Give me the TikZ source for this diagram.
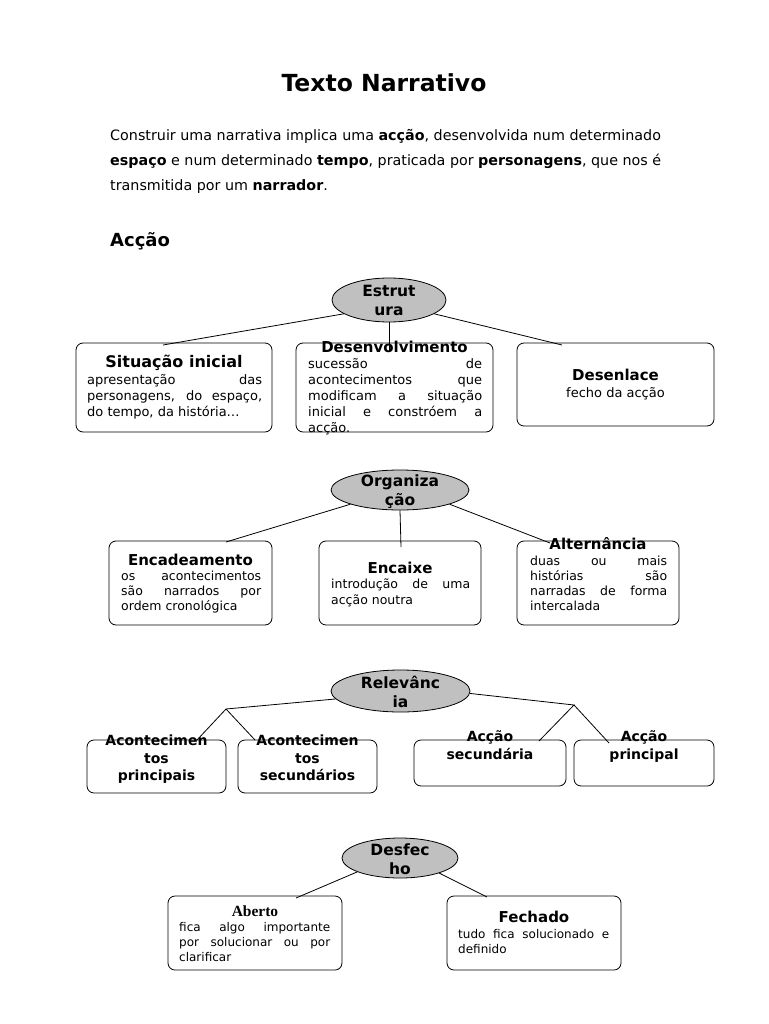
\documentclass[tikz,border=0pt]{standalone}
\usepackage{fontspec}
\setmainfont{DejaVu Sans}
\newfontfamily\serifb{Liberation Serif}
\usetikzlibrary{shapes.geometric}
\definecolor{ellgray}{RGB}{192,192,192}
\hyphenpenalty=10000
\exhyphenpenalty=10000
\tikzset{
  box/.style={draw, rounded corners=7pt, line width=0.8pt, inner sep=0pt},
  ell/.style={ellipse, draw, fill=ellgray, line width=0.8pt, inner sep=0pt},
  link/.style={line width=0.8pt},
  elltext/.style={font=\fontsize{15.5}{19}\selectfont\bfseries, align=center, inner sep=0pt},
  btitle/.style={font=\fontsize{15}{17}\selectfont\bfseries, inner sep=0pt, anchor=base},
  rtitle/.style={font=\fontsize{14}{17.5}\selectfont\bfseries, inner sep=0pt, align=center, anchor=north},
  btext/.style={font=\fontsize{13}{16}\selectfont, align=justify, inner sep=0pt, anchor=north west},
  btextb/.style={btext, font=\fontsize{12.5}{15}\selectfont},
  btextc/.style={btext, font=\fontsize{12}{15}\selectfont},
  para/.style={font=\fontsize{14.3}{17}\selectfont, inner sep=0pt, anchor=base west},
}
\begin{document}
\begin{tikzpicture}[x=1pt,y=-1pt]
\useasboundingbox[fill=white] (0,0) rectangle (768,1024);

% title and paragraph
\node[font=\fontsize{23.5}{28}\selectfont\bfseries, inner sep=0pt, anchor=base] (title) at (384,91.5) {Texto Narrativo};
\node[para] (p1) at (110,141) {Construir uma narrativa implica uma \textbf{acção}, desenvolvida num determinado};
\node[para] (p2) at (110,166) {\textbf{espaço} e num determinado \textbf{tempo}, praticada por \textbf{personagens}, que nos é};
\node[para] (p3) at (110,191) {transmitida por um \textbf{narrador}.};
\node[font=\fontsize{18}{22}\selectfont\bfseries, inner sep=0pt, anchor=base west] (h1) at (110,246.5) {Acção};

% ---------- Estrutura ----------
\node[ell, minimum width=114, minimum height=44] (e1) at (389,300) {};
\node[elltext] (e1t) at (389,300) {Estrut\\ura};
\node[box, minimum width=196, minimum height=89] (b11) at (174,387.5) {};
\node[box, minimum width=197, minimum height=89] (b12) at (394.5,387.5) {};
\node[box, minimum width=197, minimum height=83] (b13) at (615.5,384.5) {};
\node[btitle, font=\fontsize{16}{18}\selectfont\bfseries] (t11) at (174,367.5) {Situação inicial};
\node[btext, text width=175] (x11) at (87,374) {apresentação das\linebreak personagens, do espaço,\linebreak do tempo, da história\ldots};
\node[btitle] (t12) at (394.5,352.5) {Desenvolvimento};
\node[btext, text width=174] (x12) at (308,358.5) {sucessão de\linebreak acontecimentos que\linebreak modificam a situação\linebreak inicial e constróem a\linebreak acção.};
\node[btitle] (t13) at (615.5,380.5) {Desenlace};
\node[font=\fontsize{13}{16}\selectfont, inner sep=0pt, anchor=base] (x13) at (615.5,397.5) {fecho da acção};
\coordinate (c11) at (163,345);
\coordinate (c12) at (389,352);
\coordinate (c13) at (562,345);
\draw[link] (e1.197) -- (c11);
\draw[link] (e1.south) -- (c12);
\draw[link] (e1.-17) -- (c13);

% ---------- Organização ----------
\node[ell, minimum width=138, minimum height=40] (e2) at (400,490) {};
\node[elltext] (e2t) at (400,491.5) {Organiza\\ção};
\node[box, minimum width=163, minimum height=84] (b21) at (190.5,583) {};
\node[box, minimum width=162, minimum height=84] (b22) at (400,583) {};
\node[box, minimum width=162, minimum height=84] (b23) at (598,583) {};
\node[btitle] (t21) at (190.5,565.5) {Encadeamento};
\node[btextb, text width=140] (x21) at (121,570.5) {os acontecimentos\linebreak são narrados por\linebreak ordem cronológica};
\node[btitle] (t22) at (400,573.5) {Encaixe};
\node[btext, text width=139, font=\fontsize{12.5}{16}\selectfont] (x22) at (331,578.5) {introdução de uma\linebreak acção noutra};
\node[btitle] (t23) at (598,549.5) {Alternância};
\node[btextb, text width=137] (x23) at (530,555.5) {duas ou mais\linebreak histórias são\linebreak narradas de forma\linebreak intercalada};
\coordinate (c21) at (226,542);
\coordinate (c22) at (401,547);
\coordinate (c23) at (550,543);
\draw[link] (e2.196) -- (c21);
\draw[link] (e2.south) -- (c22);
\draw[link] (e2.-16) -- (c23);

% ---------- Relevância ----------
\node[ell, minimum width=139, minimum height=42] (e3) at (400.5,691) {};
\node[elltext] (e3t) at (400.5,692) {Relevânc\\ia};
\node[box, minimum width=139, minimum height=53] (b31) at (156.5,766.5) {};
\node[box, minimum width=139, minimum height=53] (b32) at (307.5,766.5) {};
\node[box, minimum width=152, minimum height=46] (b33) at (490,763) {};
\node[box, minimum width=140, minimum height=46] (b34) at (644,763) {};
\node[rtitle] (t31) at (156.5,735) {Acontecimen\\tos\\principais};
\node[rtitle] (t32) at (307.5,735) {Acontecimen\\tos\\secundários};
\node[rtitle] (t33) at (490,730.5) {Acção\\secundária};
\node[rtitle] (t34) at (644,730.5) {Acção\\principal};
\coordinate (j31) at (226,709);
\coordinate (j32) at (574,705);
\coordinate (c31) at (197,740);
\coordinate (c32) at (255,740);
\coordinate (c33) at (539,741);
\coordinate (c34) at (609,743);
\draw[link] (e3.187) -- (j31) -- (c31);
\draw[link] (j31) -- (c32);
\draw[link] (e3.-2) -- (j32) -- (c33);
\draw[link] (j32) -- (c34);

% ---------- Desfecho ----------
\node[ell, minimum width=116, minimum height=40] (e4) at (400,858) {};
\node[elltext] (e4t) at (400,859) {Desfec\\ho};
\node[box, minimum width=174, minimum height=74] (b41) at (255,933) {};
\node[box, minimum width=174, minimum height=74] (b42) at (534,933) {};
\node[btitle, font=\serifb\bfseries\fontsize{15.5}{17}\selectfont] (t41) at (255,916) {Aberto};
\node[btextc, text width=151] (x41) at (179,922) {fica algo importante\linebreak por solucionar ou por\linebreak clarificar};
\node[btitle] (t42) at (534,922.5) {Fechado};
\node[btextc, text width=151] (x42) at (458,929) {tudo fica solucionado e\linebreak definido};
\coordinate (c41) at (296,898);
\coordinate (c42) at (487,897);
\draw[link] (e4.198) -- (c41);
\draw[link] (e4.-21) -- (c42);
\end{tikzpicture}
\end{document}
